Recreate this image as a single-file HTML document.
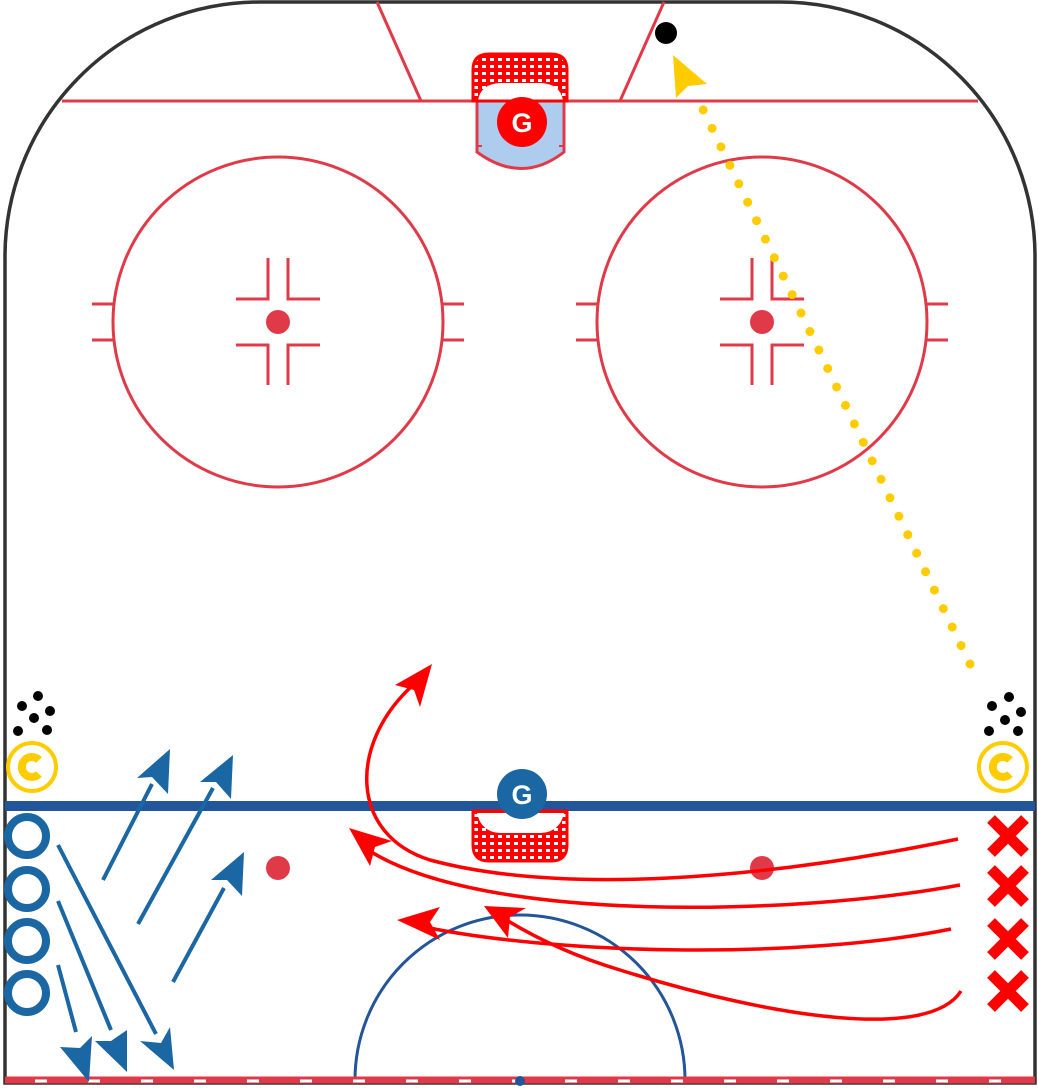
<!DOCTYPE html>
<html><head><meta charset="utf-8"><style>
html,body{margin:0;padding:0;background:#fff;}
svg{display:block;}
text{font-family:"Liberation Sans",sans-serif;font-weight:bold;}
</style></head><body>
<svg width="1038" height="1090" viewBox="0 0 1038 1090" xmlns="http://www.w3.org/2000/svg">
<defs>
<pattern id="net" width="8" height="7" patternUnits="userSpaceOnUse">
<rect width="8" height="7" fill="#f00"/><rect x="2" y="2" width="4" height="3" fill="#fff"/>
</pattern>
</defs>
<path d="M5,1083 V260 A255,255 0 0 1 260,2 H780 A255,255 0 0 1 1035,260 V1083 Z" fill="#fff" stroke="#333" stroke-width="3.5"/>
<line x1="62" y1="101" x2="978" y2="101" stroke="#e03a48" stroke-width="3"/>
<line x1="377" y1="2" x2="421" y2="101" stroke="#e03a48" stroke-width="3"/>
<line x1="664" y1="2" x2="620" y2="101" stroke="#e03a48" stroke-width="3"/>
<path d="M477,101 V152 Q522,185 564,152 V101 Z" fill="#aecdee" stroke="#e03a48" stroke-width="3"/>
<path d="M477,146 h5 M564,146 h-5" stroke="#e03a48" stroke-width="2"/>
<path d="M473,101 V70 Q473,54 489,54 H551 Q567,54 567,70 V101 Z" fill="url(#net)" stroke="#f00" stroke-width="3"/>
<path d="M478,100 Q481,84 500,83 H541 Q560,84 563,100 Z" fill="#fff"/>
<path d="M473,101 H567" stroke="#f00" stroke-width="3"/>
<circle cx="522" cy="122" r="25" fill="#f00"/>
<text x="522" y="132" font-size="27" fill="#fff" text-anchor="middle">G</text>
<g stroke="#e03a48" stroke-width="3" fill="none">
<circle cx="278" cy="322" r="165"/>
<circle cx="762" cy="322" r="165"/>
<path d="M92,304 h21 M92,340 h21 M443,304 h21 M443,340 h21"/>
<path d="M576,304 h21 M576,340 h21 M927,304 h21 M927,340 h21"/>
<path d="M268,258 V299 H236 M288,258 V299 H320 M268,385 V345 H236 M288,385 V345 H320"/>
<path d="M752,258 V299 H720 M772,258 V299 H804 M752,385 V345 H720 M772,385 V345 H804"/>
</g>
<circle cx="278" cy="322" r="12" fill="#e03a48"/>
<circle cx="762" cy="322" r="12" fill="#e03a48"/>
<circle cx="278" cy="868" r="12" fill="#e03a48"/>
<circle cx="762" cy="868" r="12" fill="#e03a48"/>
<path d="M355,1080 A165,165 0 0 1 685,1080" fill="none" stroke="#23559a" stroke-width="3"/>
<line x1="5" y1="1080" x2="1035" y2="1080" stroke="#e03a48" stroke-width="7"/>
<line x1="35" y1="1081" x2="1035" y2="1081" stroke="#fff" stroke-width="3" stroke-dasharray="12,41"/>
<circle cx="520" cy="1081" r="5" fill="#23559a"/>
<line x1="5" y1="806" x2="1035" y2="806" stroke="#23559a" stroke-width="10"/>
<path d="M473,811 V845 Q473,861 489,861 H551 Q567,861 567,845 V811 Z" fill="url(#net)" stroke="#f00" stroke-width="3"/>
<path d="M477,813 Q481,832 500,833 H541 Q560,832 564,813 Z" fill="#fff"/>
<circle cx="522" cy="794" r="25" fill="#1a67a3"/>
<text x="522" y="804" font-size="27" fill="#fff" text-anchor="middle">G</text>
<circle cx="666" cy="33" r="11" fill="#000"/>
<line x1="970" y1="664" x2="697" y2="97" stroke="#ffcc00" stroke-width="9" stroke-linecap="round" stroke-dasharray="0,20.5"/>
<path d="M673,55 L707,84 L688,86 L676,98 Z" fill="#ffcc00"/>
<g fill="#000">
<circle cx="22" cy="706" r="5"/><circle cx="38" cy="696" r="5"/><circle cx="50" cy="711" r="5"/><circle cx="34" cy="718" r="5"/><circle cx="18" cy="731" r="5"/><circle cx="47" cy="730" r="5"/>
<circle cx="1009" cy="697" r="5"/><circle cx="992" cy="706" r="5"/><circle cx="1021" cy="712" r="5"/><circle cx="1005" cy="720" r="5"/><circle cx="989" cy="731" r="5"/><circle cx="1018" cy="731" r="5"/>
</g>
<g fill="none" stroke="#ffcc00">
<circle cx="32" cy="767" r="24" stroke-width="4"/><circle cx="1003" cy="767" r="24" stroke-width="4"/>
<path d="M39,760 A10,10 0 1 0 39,774" stroke-width="8"/>
<path d="M1010,760 A10,10 0 1 0 1010,774" stroke-width="8"/>
</g>
<g fill="none" stroke="#1a67a3" stroke-width="8">
<circle cx="27" cy="836" r="19"/><circle cx="27" cy="889" r="19"/><circle cx="27" cy="941" r="19"/><circle cx="27" cy="993" r="19"/>
</g>
<g stroke="#1a67a3" stroke-width="4">
<line x1="103" y1="880" x2="152" y2="784"/>
<line x1="138" y1="924" x2="213" y2="788"/>
<line x1="173" y1="982" x2="224" y2="888"/>
<line x1="58" y1="845" x2="156" y2="1034"/>
<line x1="58" y1="901" x2="111" y2="1030"/>
<line x1="58" y1="965" x2="76" y2="1032"/>
</g>
<g fill="#1a67a3">
<path d="M170,749 L168,794 L152,777 L137,778 Z"/>
<path d="M233,755 L231,799 L216,782 L200,782 Z"/>
<path d="M244,852 L242,896 L227,880 L211,880 Z"/>
<path d="M174,1070 L140,1041 L161,1043 L170,1027 Z"/>
<path d="M127,1072 L95,1041 L111,1041 L127,1030 Z"/>
<path d="M89,1082 L60,1047 L80,1048 L92,1036 Z"/>
</g>
<g stroke="#f00" stroke-width="11">
<path d="M991,819 L1025,853 M1025,819 L991,853"/>
<path d="M991,869 L1025,903 M1025,869 L991,903"/>
<path d="M991,922 L1025,956 M1025,922 L991,956"/>
<path d="M991,974 L1025,1008 M1025,974 L991,1008"/>
</g>
<g fill="none" stroke="#f00" stroke-width="3.5">
<path d="M958,839 C760,880 560,895 430,860 C350,835 348,745 412,686"/>
<path d="M960,885 C800,915 480,925 365,848"/>
<path d="M951,929 C800,960 550,955 415,925"/>
<path d="M961,991 C930,1040 780,1020 620,970 C570,955 530,935 500,916"/>
</g>
<g fill="#f00">
<path d="M432,664 L420,707 L414,690 L395,685 Z"/>
<path d="M349,828 L392,841 L375,847 L370,866 Z"/>
<path d="M397,920 L440,907 L430,922 L440,940 Z"/>
<path d="M484,906 L526,908 L510,917 L508,938 Z"/>
</g>
</svg>
</body></html>
